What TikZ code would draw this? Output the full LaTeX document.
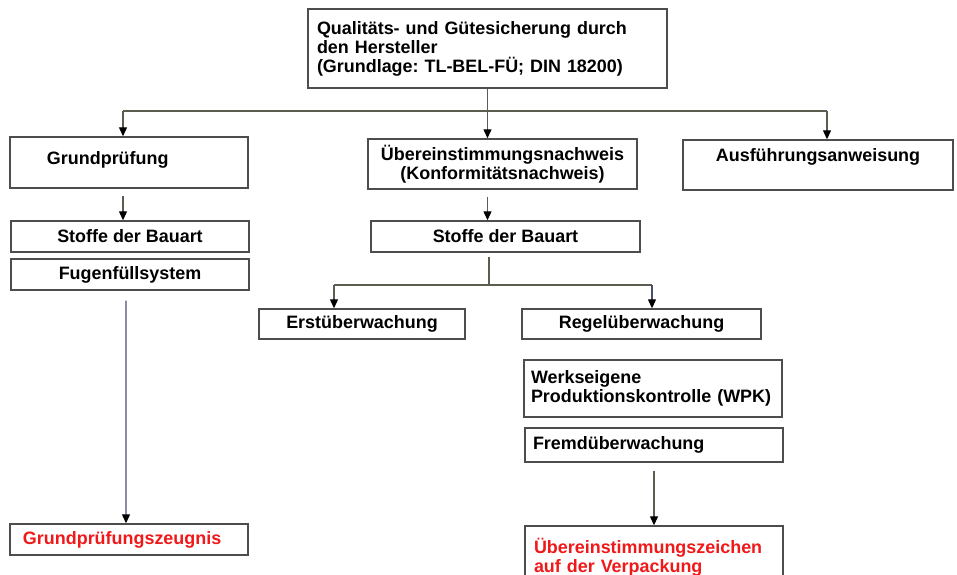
\documentclass[tikz,border=0pt]{standalone}
\usepackage{fontspec}
\setmainfont{Liberation Sans}
\usetikzlibrary{arrows.meta}
\frenchspacing
\definecolor{bBox}{HTML}{4D4D4D}
\definecolor{cLine}{HTML}{5C5C50}
\definecolor{cLineB}{HTML}{4A4E72}
\definecolor{cRed}{HTML}{F01818}
\tikzset{
  box/.style={draw=bBox, line width=1.4bp, inner sep=0pt, align=center,
              font=\fontsize{18}{19}\selectfont\bfseries},
  leftbox/.style={box, align=left},
  redbox/.style={leftbox, text=cRed},
  ln/.style={draw=cLine, line width=1.2bp},
  arr/.style={ln, -{Triangle[length=9bp,width=8bp,color=black]}},
  arrB/.style={arr, draw=cLineB},
}

\begin{document}
\begin{tikzpicture}[x=1bp, y=-1bp]
\useasboundingbox (0,0) rectangle (957,575);

% Top
\node[leftbox, minimum width=359bp, minimum height=79bp, text width=341bp] (qs) at (487.5, 48.5)
  {Qualitäts- und Gütesicherung durch\\den Hersteller\\(Grundlage: TL-BEL-FÜ; DIN 18200)};

% Second row
\node[leftbox, minimum width=238bp, minimum height=51bp, text width=164bp, text depth=9bp] (grund) at (129, 162.5) {Grundprüfung};
\node[box, minimum width=269bp, minimum height=50bp] (uebn) at (502.5, 164) {Übereinstimmungsnachweis\\(Konformitätsnachweis)};
\node[box, minimum width=270bp, minimum height=50bp, text depth=20bp] (ausf) at (818, 165) {Ausführungsanweisung};

% Left column
\node[box, minimum width=238bp, minimum height=31bp] (stoffL) at (130, 236.5) {Stoffe der Bauart};
\node[box, minimum width=238bp, minimum height=31bp] (fuge) at (130, 274.5) {Fugenfüllsystem};
\node[redbox, minimum width=238bp, minimum height=31bp, text width=212bp] (zeugnis) at (129, 539.5) {Grundprüfungszeugnis};

% Middle column
\node[box, minimum width=269bp, minimum height=31bp] (stoffM) at (505.5, 236.5) {Stoffe der Bauart};
\node[box, minimum width=206bp, minimum height=30bp] (erst) at (362, 324) {Erstüberwachung};
\node[box, minimum width=239bp, minimum height=30bp] (regel) at (641.5, 324) {Regelüberwachung};
\node[leftbox, minimum width=258bp, minimum height=57bp, text width=244bp] (wpk) at (653, 388.5) {Werkseigene\\Produktionskontrolle (WPK)};
\node[leftbox, minimum width=258bp, minimum height=34bp, text width=242bp] (fremd) at (654, 445) {Fremdüberwachung};
\node[redbox, minimum width=258bp, minimum height=70bp, text width=240bp, text depth=30bp] (uebz) at (654, 561)
  {Übereinstimmungszeichen\\auf der Verpackung};

% Split below top
\coordinate (hl) at (123, 111);
\coordinate (hr) at (827, 111);
\draw[ln] (qs.south) -- (qs.south |- hl);
\draw[ln] (hl) -- (hr);
\draw[arr] (hl) -- (hl |- grund.north);
\draw[arr] (qs.south |- hl) -- (qs.south |- uebn.north);
\draw[arr] (hr) -- (hr |- ausf.north);

% Down the columns
\draw[arr, shorten <=7bp] (hl |- grund.south) -- (hl |- stoffL.north);
\draw[arr, shorten <=7bp] (qs.south |- uebn.south) -- (qs.south |- stoffM.north);
\draw[arrB, shorten <=10bp] ([xshift=-4bp]fuge.south) -- ([xshift=-3bp]zeugnis.north);

% Split below Stoffe der Bauart
\coordinate (bm) at (489, 285);
\coordinate (bl) at (334, 285);
\coordinate (br) at (652, 285);
\draw[ln, shorten <=4bp] (bm |- stoffM.south) -- (bm);
\draw[ln] (bl) -- (br);
\draw[arr] (bl) -- (bl |- erst.north);
\draw[arrB] (br) -- (br |- regel.north);

% Output
\draw[arr, shorten <=8bp] (fremd.south) -- (uebz.north);

\end{tikzpicture}
\end{document}
